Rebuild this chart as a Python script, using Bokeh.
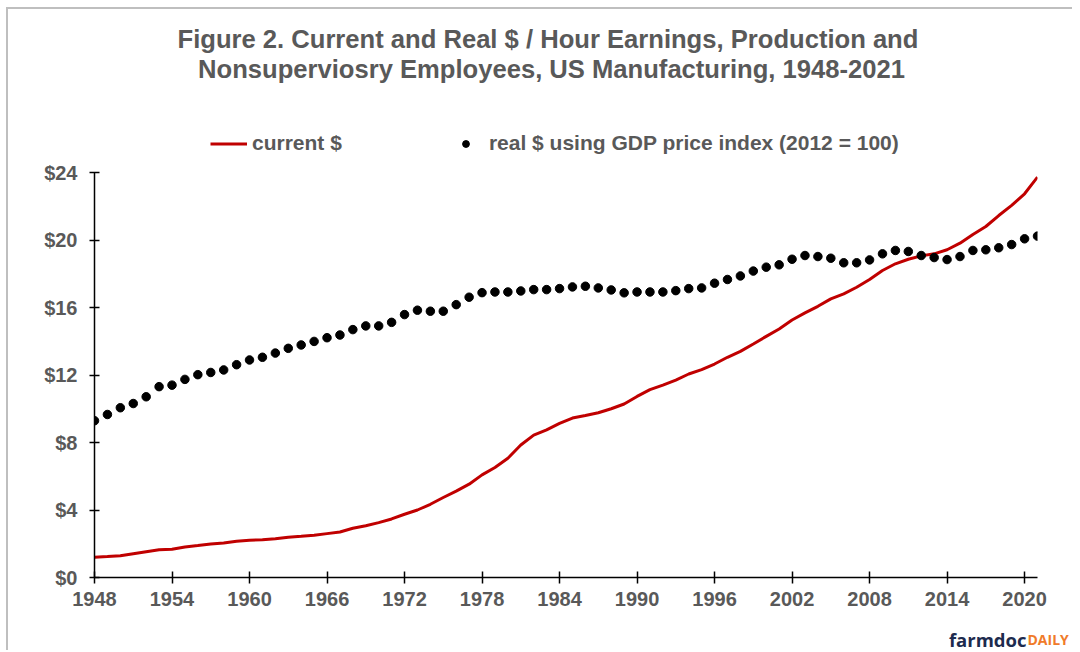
from bokeh.plotting import figure
from bokeh.models import (Range1d, FixedTicker, NumeralTickFormatter, Label,
                          Legend, LegendItem)
from bokeh.layouts import column
from bokeh.embed import file_html
from bokeh.resources import INLINE

years = list(range(1948, 2022))

current_dollars = [
    1.20, 1.24, 1.29, 1.41, 1.53, 1.65, 1.67, 1.81, 1.89, 1.99,
    2.05, 2.15, 2.21, 2.24, 2.30, 2.39, 2.44, 2.50, 2.60, 2.70,
    2.92, 3.07, 3.25, 3.47, 3.75, 4.00, 4.34, 4.74, 5.12, 5.53,
    6.08, 6.52, 7.07, 7.85, 8.44, 8.75, 9.13, 9.45, 9.60, 9.76,
    10.00, 10.28, 10.73, 11.13, 11.40, 11.70, 12.06, 12.32, 12.65, 13.05,
    13.40, 13.84, 14.29, 14.73, 15.26, 15.68, 16.07, 16.51, 16.81, 17.20,
    17.66, 18.19, 18.59, 18.86, 19.06, 19.18, 19.42, 19.81, 20.33, 20.80,
    21.45, 22.05, 22.74, 23.73,
]

real_dollars = [
    9.29, 9.66, 10.06, 10.31, 10.71, 11.31, 11.40, 11.74, 12.02, 12.15,
    12.30, 12.61, 12.89, 13.05, 13.30, 13.58, 13.78, 13.99, 14.21, 14.37,
    14.69, 14.91, 14.91, 15.12, 15.58, 15.84, 15.78, 15.78, 16.17, 16.61,
    16.88, 16.92, 16.92, 16.98, 17.06, 17.06, 17.12, 17.22, 17.26, 17.16,
    17.04, 16.87, 16.92, 16.92, 16.92, 17.00, 17.12, 17.16, 17.44, 17.66,
    17.87, 18.16, 18.39, 18.53, 18.86, 19.08, 19.02, 18.92, 18.65, 18.65,
    18.82, 19.18, 19.38, 19.32, 19.08, 18.96, 18.84, 19.02, 19.38, 19.42,
    19.54, 19.73, 20.07, 20.23,
]

x_ticks = [1948, 1954, 1960, 1966, 1972, 1978, 1984, 1990, 1996, 2002, 2008, 2014, 2020]
y_ticks = [0, 4, 8, 12, 16, 20, 24]

title_line1 = "Figure 2.  Current and Real $ / Hour Earnings, Production and"
title_line2 = "Nonsuperviosry Employees, US Manufacturing, 1948-2021"
legend_current = "current $"
legend_real = "real $ using GDP price index (2012 = 100)"
logo_part1 = "farmdoc"
logo_part2 = "DAILY"

FONT = "Liberation Sans"
GRAY = "#595959"
RED = "#C00000"
W = 1064
HT = 150   # header strip (title + legend)
HM = 455   # main chart
HL = 36    # footer strip (logo)


def no_align(f):
    try:
        f.frame_align = False
    except Exception:
        pass


def blank(height):
    f = figure(width=W, height=height, output_backend="svg", toolbar_location=None,
               x_range=Range1d(0, W), y_range=Range1d(0, height),
               min_border=0, min_border_left=0, min_border_right=0,
               min_border_top=0, min_border_bottom=0)
    f.title = None
    f.axis.visible = False
    f.grid.visible = False
    f.outline_line_color = None
    f.border_fill_color = "white"
    no_align(f)
    return f


# ---- header: title and legend ----
top = blank(HT)
for txt, yy in ((title_line1, 121), (title_line2, 91)):
    top.add_layout(Label(x=543, y=yy, text=txt, text_align="center",
                         text_baseline="alphabetic", text_font=FONT,
                         text_font_style="bold", text_font_size="25.6px",
                         text_color=GRAY))
# legend keys: same series, but out of this strip's visible range
leg_line = top.line(years, current_dollars, line_color=RED, line_width=3)
leg_dot = top.scatter(years, real_dollars, size=8.5, fill_color="black",
                      line_color="black")
legend = Legend(items=[LegendItem(label=legend_current, renderers=[leg_line]),
                       LegendItem(label=legend_real, renderers=[leg_dot])],
                location=(202, 4), orientation="horizontal",
                glyph_width=37, glyph_height=17, label_height=24,
                label_standoff=5, spacing=105, padding=0, margin=0,
                border_line_color=None, background_fill_alpha=0,
                label_text_font=FONT, label_text_font_style="bold",
                label_text_font_size="21px", label_text_color=GRAY)
top.add_layout(legend, "center")

# ---- main chart ----
p = figure(width=W, height=HM, output_backend="svg", toolbar_location=None,
           x_range=Range1d(1948, 2021), y_range=Range1d(0, 24),
           min_border_left=86, min_border_right=35, min_border_top=13,
           min_border_bottom=37)
no_align(p)
p.title = None
p.outline_line_color = None
p.xgrid.visible = False
p.ygrid.visible = False
p.border_fill_color = "white"

for ax in (p.xaxis[0], p.yaxis[0]):
    ax.axis_line_color = "black"
    ax.axis_line_width = 1.5
    ax.major_tick_line_color = "black"
    ax.major_tick_line_width = 1.5
    ax.minor_tick_line_color = None
    ax.major_label_text_font = FONT
    ax.major_label_text_font_style = "bold"
    ax.major_label_text_font_size = "20px"
    ax.major_label_text_color = GRAY

p.xaxis.ticker = FixedTicker(ticks=x_ticks)
p.xaxis.major_tick_in = 6
p.xaxis.major_tick_out = 6
p.xaxis.major_label_standoff = 8

p.yaxis.ticker = FixedTicker(ticks=y_ticks)
p.yaxis.formatter = NumeralTickFormatter(format="$0")
p.yaxis.major_tick_in = 5
p.yaxis.major_tick_out = 5
p.yaxis.major_label_standoff = 12

p.line(years, current_dollars, line_color=RED, line_width=3)
p.scatter(years, real_dollars, size=8.5, fill_color="black", line_color="black")

# ---- footer: logo ----
logo = blank(HL)
logo.add_layout(Label(x=1018, y=11, text=logo_part1, text_align="right",
                      text_font="Open Sans", text_font_style="bold",
                      text_font_size="18.5px", text_color="#1D2B4E",
                      text_baseline="alphabetic"))
logo.add_layout(Label(x=1019, y=11, text=logo_part2, text_align="left",
                      text_font="Open Sans", text_font_style="bold",
                      text_font_size="14px", text_color="#F07B2A",
                      text_baseline="alphabetic"))

layout = column(top, p, logo, spacing=0)
layout.margin = (7, 0, 0, 6)
layout.styles = {"border-top": "2px solid #BFBFBF", "border-left": "2px solid #BFBFBF"}

open("out.html", "w").write(file_html(layout, INLINE))
